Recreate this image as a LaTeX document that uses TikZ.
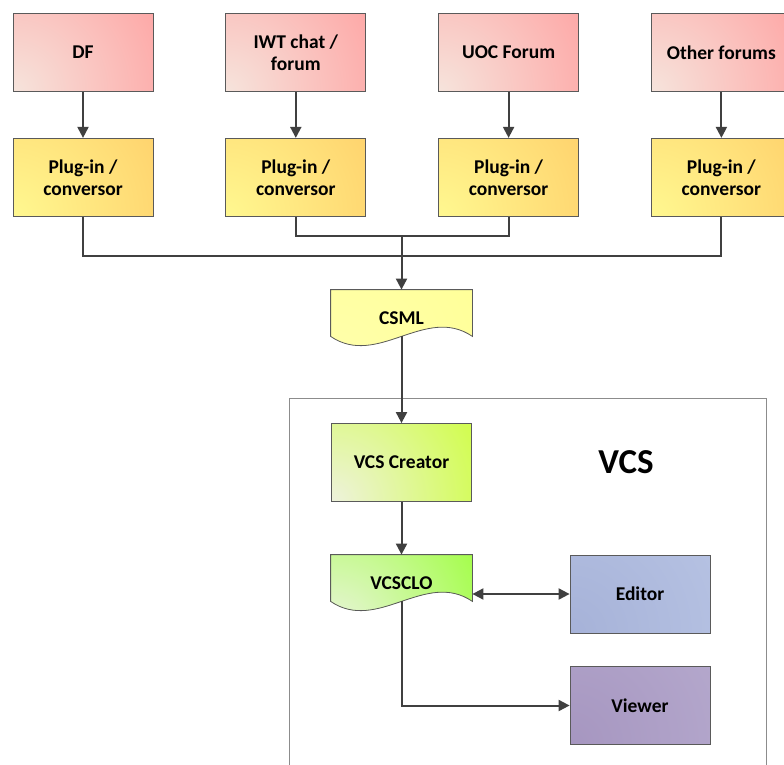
\documentclass[tikz,border=0pt]{standalone}
\usepackage{fontspec}
\setmainfont{Carlito}
\usetikzlibrary{positioning,arrows.meta,backgrounds}

\definecolor{linegray}{HTML}{404040}
\definecolor{edgegray}{HTML}{5A5A5A}
\definecolor{srclight}{HTML}{F6E4DC}
\definecolor{srcdark}{HTML}{FF9E9E}
\definecolor{pluglight}{HTML}{FFF890}
\definecolor{plugdark}{HTML}{FFCD68}
\definecolor{csmllight}{HTML}{FFFFAC}
\definecolor{csmldark}{HTML}{FFFF96}
\definecolor{crelight}{HTML}{EEF2DC}
\definecolor{credark}{HTML}{CCFF33}
\definecolor{clolight}{HTML}{ECF4E0}
\definecolor{clodark}{HTML}{99FF33}
\definecolor{edlight}{HTML}{A6B2D8}
\definecolor{eddark}{HTML}{B8C4E4}
\definecolor{vwlight}{HTML}{A696C0}
\definecolor{vwdark}{HTML}{B6AACE}

% wavy "document" outline round a node
\newcommand{\docshape}[2]{%
  \draw[#2] (#1.north west) -- ([yshift=11]#1.south west)
    .. controls +(47,32) and +(-47,-32) .. ([yshift=11]#1.south east)
    -- (#1.north east) -- cycle;}

\begin{document}
\begin{tikzpicture}[x=1pt,y=-1pt,->,>={Triangle[length=11pt,width=11pt]},
    line width=2pt,draw=linegray,node distance=46pt,
    box/.style={draw=edgegray,line width=0.8pt,minimum width=140pt,minimum height=78pt,
      align=center,font=\fontsize{19.5}{22}\selectfont\bfseries},
    doc/.style={box,draw=none,minimum width=141pt,minimum height=57pt},
    grad/.style 2 args={fill=#2,path picture={\shade[inner color=#1,outer color=#2]
      (path picture bounding box.south west) circle (190pt);}},
    src/.style={grad={srclight}{srcdark}},
    plug/.style={grad={pluglight}{plugdark}},
    csmlfill/.style={-,draw=edgegray,line width=0.8pt,grad={csmllight}{csmldark}},
    creator/.style={grad={crelight}{credark}},
    clofill/.style={-,draw=edgegray,line width=0.8pt,grad={clolight}{clodark}},
    editor/.style={grad={edlight}{eddark}},
    viewer/.style={grad={vwlight}{vwdark}},
    frame/.style={-,draw=black!45,line width=0.8pt}]

    \useasboundingbox (0,0) rectangle (784,765);

    \draw[frame] (289,398) rectangle (766,800);

    \node[box,src] (df) at (83,52.5) {DF};
    \node[box,src,right=72pt of df] (iwt) {IWT chat /\\forum};
    \node[box,src,right=72pt of iwt] (uoc) {UOC Forum};
    \node[box,src,right=72pt of uoc] (other) {Other forums};

    \node[box,plug,below=of df] (pdf) {Plug-in /\\conversor};
    \node[box,plug,below=of iwt] (piwt) {Plug-in /\\conversor};
    \node[box,plug,below=of uoc] (puoc) {Plug-in /\\conversor};
    \node[box,plug,below=of other] (pother) {Plug-in /\\conversor};

    \node[doc] (csml) at (401.5,318.5) {CSML};
    \node[box,creator] (creator) at (401.5,462.5) {VCS Creator};
    \node[doc] (vcsclo) at (401.5,583.5) {VCSCLO};
    \node[box,editor] (editor) at (640,594) {Editor};
    \node[box,viewer] (viewer) at (640,705.5) {Viewer};
    \node[font=\fontsize{35}{40}\selectfont\bfseries] (vcs) at (626,462) {VCS};

    \begin{scope}[on background layer]
        \docshape{csml}{csmlfill}
        \docshape{vcsclo}{clofill}
    \end{scope}

    \coordinate (busA) at (401.5,236);
    \coordinate (busB) at (401.5,256);
    \coordinate (csmlout) at ([yshift=11]csml.south);
    \coordinate (cloout) at ([yshift=11]vcsclo.south);

    \draw (df) -- (pdf);
    \draw (iwt) -- (piwt);
    \draw (uoc) -- (puoc);
    \draw (other) -- (pother);

    \draw[-] (pdf.south) |- (busB) -| (pother.south);
    \draw[-] (piwt.south) |- (busA) -| (puoc.south);
    \draw (busA) -- (csml.north);
    \draw (csmlout) -- (creator);
    \draw (creator) -- (vcsclo.north);
    \draw[<->] (editor.west -| vcsclo.east) -- (editor.west);
    \draw (cloout) |- (viewer.west);
\end{tikzpicture}
\end{document}
